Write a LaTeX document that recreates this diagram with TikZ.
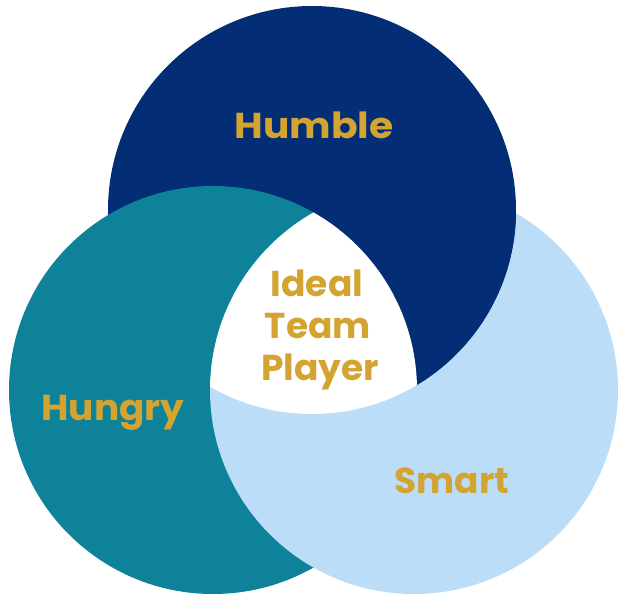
\documentclass[tikz,border=0pt]{standalone}
\usepackage{fontspec}
\setmainfont{Poppins}
\definecolor{navyc}{HTML}{032D74}
\definecolor{tealc}{HTML}{0D8299}
\definecolor{lightc}{HTML}{BCDDF7}
\definecolor{goldc}{HTML}{D4A432}
\tikzset{
  lbl/.style={text=goldc, font=\bfseries\fontsize{36}{43}\selectfont, align=center, inner sep=0pt, anchor=base},
}
\begin{document}
\begin{tikzpicture}[x=1pt,y=-1pt]
\useasboundingbox (0,0) rectangle (619,596);
\coordinate (humble) at (312,210);
\coordinate (hungry) at (213,390);
\coordinate (smart) at (414,390);
% layer 1: light blue
\fill[lightc] (smart) circle[radius=204pt];
% layer 2: navy
\fill[navyc] (humble) circle[radius=204pt];
% layer 3: teal
\fill[tealc] (hungry) circle[radius=204pt];
% layer 4: light blue over teal (outside humble)
\begin{scope}[even odd rule]
  \clip (hungry) circle[radius=205pt];
  \clip (-20,-20) rectangle (640,620) (humble) circle[radius=203pt];
  \fill[lightc] (smart) circle[radius=204pt];
\end{scope}
% layer 5: navy refill over teal (inside smart)
\begin{scope}[even odd rule]
  \clip (smart) circle[radius=204pt];
  \clip (-20,-20) rectangle (640,620) (hungry) circle[radius=203pt];
  \fill[navyc] (humble) circle[radius=204pt];
\end{scope}
% layer 6: white centre
\begin{scope}
  \clip (hungry) circle[radius=204pt];
  \clip (smart) circle[radius=204pt];
  \fill[white] (humble) circle[radius=204pt];
\end{scope}
\node[lbl] (thumble) at (314,139) {\scalebox{1.09}[1]{Humble}};
\node[lbl] (thungry) at (113,420) {\scalebox{1.04}[1]{Hungry}};
\node[lbl] (tsmart) at (452,493) {Smart};
\node[lbl] (tideal) at (317,297) {Ideal};
\node[lbl] (tteam) at (318,338) {Team};
\node[lbl] (tplayer) at (320,381) {Player};
\end{tikzpicture}
\end{document}
